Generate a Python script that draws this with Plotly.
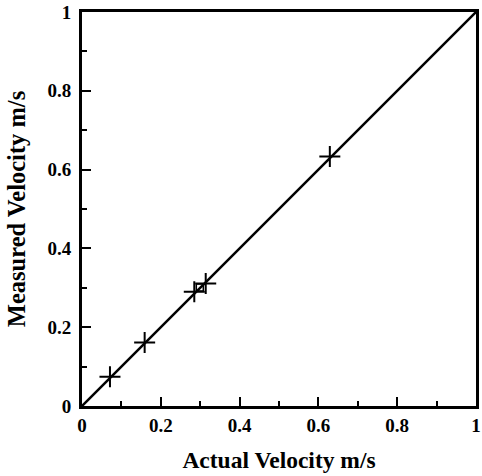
import plotly.graph_objects as go

actual = [0.071, 0.159, 0.285, 0.314, 0.629]
measured = [0.074, 0.161, 0.290, 0.311, 0.633]
sq_actual = [0.299]
sq_measured = [0.301]
line_x = [0, 1]
line_y = [0, 1]
tick_vals = [0, 0.2, 0.4, 0.6, 0.8, 1]
tick_text = ["0", "0.2", "0.4", "0.6", "0.8", "1"]

font_family = "Liberation Serif, Times New Roman, serif"

fig = go.Figure()
fig.add_trace(go.Scatter(x=line_x, y=line_y, mode="lines",
                         line=dict(color="black", width=2.5), showlegend=False))
fig.add_trace(go.Scatter(x=actual, y=measured, mode="markers",
                         marker=dict(symbol="cross-thin", size=15,
                                     line=dict(color="black", width=2)),
                         showlegend=False))
fig.add_trace(go.Scatter(x=sq_actual, y=sq_measured, mode="markers",
                         marker=dict(symbol="square-open", size=7, color="black",
                                     line=dict(color="black", width=1.5)),
                         showlegend=False))

axis_common = dict(
    range=[0, 1], tickvals=tick_vals, ticktext=tick_text,
    ticks="inside", ticklen=9, tickwidth=2, tickcolor="black",
    showline=True, linewidth=3, linecolor="black", mirror=True,
    showgrid=False, zeroline=False, automargin=False,
    ticklabeloverflow="allow",
    tickfont=dict(family=font_family, size=19, color="black", weight="bold"),
    minor=dict(dtick=0.1, ticks="inside", ticklen=5, tickwidth=2, tickcolor="black", showgrid=False),
)

fig.update_layout(
    width=482, height=476,
    margin=dict(l=82, r=6, t=12, b=70),
    paper_bgcolor="white", plot_bgcolor="white",
    hovermode=False,
    xaxis=dict(**axis_common,
               title=dict(text="Actual Velocity m/s", standoff=17,
                          font=dict(family=font_family, size=23.5, color="black", weight="bold"))),
    yaxis=dict(**axis_common, ticklabelstandoff=4,
               title=dict(text="Measured Velocity m/s", standoff=15,
                          font=dict(family=font_family, size=24.5, color="black", weight="bold"))),
)

fig.write_html("out.html",
               config={"displayModeBar": False, "staticPlot": True},
               post_script="document.body.style.margin='0';document.body.style.overflow='hidden';")
